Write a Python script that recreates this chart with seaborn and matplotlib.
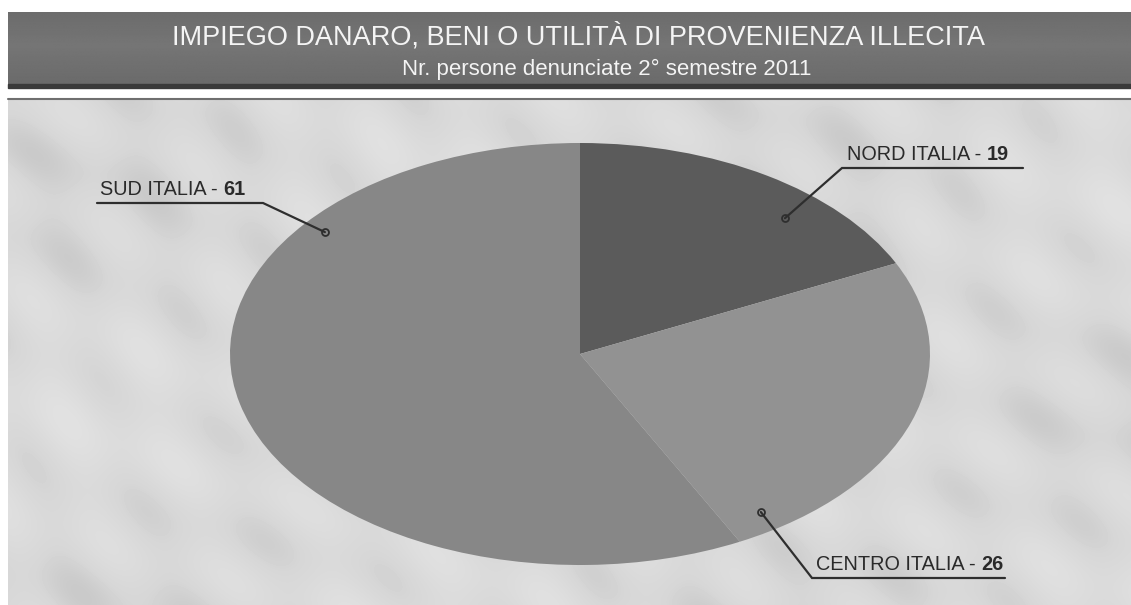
import numpy as np
import matplotlib
matplotlib.use("Agg")
import matplotlib.pyplot as plt
from matplotlib.patches import Rectangle
import seaborn as sns

# Persone denunciate per area geografica
regions = ["NORD ITALIA", "CENTRO ITALIA", "SUD ITALIA"]
persons = [19, 26, 61]
title = "IMPIEGO DANARO, BENI O UTILITÀ DI PROVENIENZA ILLECITA"
subtitle = "Nr. persone denunciate 2° semestre 2011"

sns.set_theme(style="white")
plt.rcParams["font.family"] = ["Liberation Sans", "DejaVu Sans"]

slice_colors = ["#5b5b5b", "#929292", "#878787"]

W, H = 1131, 605
fig = plt.figure(figsize=(W / 100, H / 100), dpi=100)
fig.patch.set_facecolor("white")

# Background canvas in pixel units: banner and panel
bg = fig.add_axes([0, 0, 1, 1])
bg.set_xlim(0, W)
bg.set_ylim(H, 0)
bg.axis("off")

grad = np.linspace(0, 1, 80)[:, None]
band = 0.46 - 0.04 * np.abs(grad - 0.45) * 2
bg.imshow(np.repeat(band, 10, axis=1), cmap="gray", vmin=0, vmax=1,
          extent=[8, W, 86, 12], aspect="auto", zorder=1)
bg.add_patch(Rectangle((8, 84), W - 8, 4, color="#3a3a3a", zorder=2))
bg.text(578, 37, title, ha="center", va="center", color="#f4f4f4",
        fontsize=19.5, zorder=3)
bg.text(607, 69, subtitle, ha="center", va="center", color="#f4f4f4",
        fontsize=16, zorder=3)

# Soft mottled texture of the panel
yy, xx = np.mgrid[0:507, 0:1123].astype(float)
u = 0.7 * xx + 0.7 * yy
v = -0.7 * xx + 0.7 * yy
tex = (np.sin(0.028 * u + 0.4 * np.sin(0.011 * v)) * np.sin(0.06 * v + 0.5 * np.sin(0.013 * u))
       + 0.5 * np.sin(0.009 * xx + 0.8) * np.sin(0.014 * yy + 0.3))
tex = 0.85 - 0.022 * tex - 0.03 * np.clip(tex - 0.4, 0, None)
bg.imshow(tex, cmap="gray", vmin=0, vmax=1, extent=[8, W, H, 98],
          aspect="auto", zorder=1, interpolation="bilinear")
bg.plot([8, W], [98.5, 98.5], color="#6f6f6f", lw=1.5, zorder=2)

# Elliptical pie
cx0, cx1, cy0, cy1 = 230, 930, 143, 565
ax = fig.add_axes([cx0 / W, (H - cy1) / H, (cx1 - cx0) / W, (cy1 - cy0) / H])
wedges, _ = ax.pie(persons, colors=slice_colors, startangle=90,
                   counterclock=False, radius=1,
                   wedgeprops=dict(linewidth=0))
ax.set_aspect("auto")
ax.set_xlim(-1, 1)
ax.set_ylim(-1, 1)
ax.axis("off")
ax.patch.set_alpha(0)

# Overlay for leader lines and labels, above the pie
ov = fig.add_axes([0, 0, 1, 1])
ov.set_xlim(0, W)
ov.set_ylim(H, 0)
ov.axis("off")
ov.patch.set_alpha(0)

# anchor angle/radius on the slice, elbow and underline end in pixels
leaders = {
    "NORD ITALIA": dict(ang=47.7, r=0.87, elbow=(842, 168), end=1023, tx=847),
    "CENTRO ITALIA": dict(ang=-55.4, r=0.91, elbow=(812, 578), end=1005, tx=816),
    "SUD ITALIA": dict(ang=141.6, r=0.93, elbow=(263, 203), end=97, tx=100),
}

renderer = fig.canvas.get_renderer()
for name, val in zip(regions, persons):
    L = leaders[name]
    a = np.deg2rad(L["ang"])
    px, py = ax.transData.transform((L["r"] * np.cos(a), L["r"] * np.sin(a)))
    mx, my = px, H - py
    ex, ey = L["elbow"]
    ov.plot([mx, ex, L["end"]], [my, ey, ey], color="#2e2e2e", lw=1.6,
            zorder=5, solid_joinstyle="miter")
    ov.plot([mx], [my], marker="o", ms=5, mfc="none", mec="#2e2e2e", mew=1.3, zorder=6)
    t1 = ov.text(L["tx"], ey - 8, f"{name} - ", ha="left", va="baseline",
                 fontsize=14.3, color="#2a2a2a", zorder=6)
    bb = t1.get_window_extent(renderer)
    ov.text(L["tx"] + bb.width, ey - 8, f"{val}", ha="left", va="baseline",
            fontsize=14.3, fontweight="bold", color="#2a2a2a", zorder=6)

fig.savefig("out.png", dpi=100)
